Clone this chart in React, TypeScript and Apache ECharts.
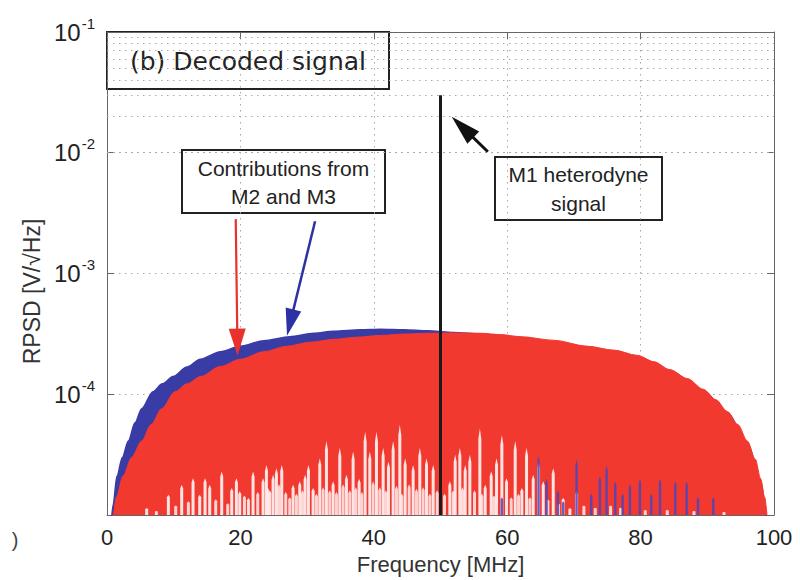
import React, { useEffect, useRef } from "react";
import * as echarts from "echarts";

// ---------- data ----------
const X_TICKS = [0, 20, 40, 60, 80, 100];
const Y_DECADES = [-5, -4, -3, -2, -1];
const Y_MIN = 1e-5;
const Y_MAX = 1e-1;

// upper envelope of the blue spectrum [MHz, V/sqrt(Hz)]
const blueEnvelope: [number, number][] = [
  [0.6, 8e-6], [0.9, 1.2e-5], [1.5, 2.1e-5], [2.3, 3.0e-5], [3.2, 4.1e-5], [4.2, 5.8e-5],
  [5.2, 7.6e-5], [6.9, 1.05e-4], [8.3, 1.22e-4], [9.9, 1.4e-4], [12, 1.68e-4],
  [14, 1.95e-4], [17, 2.25e-4], [20, 2.5e-4], [23.5, 2.78e-4], [27.4, 3.0e-4],
  [31, 3.2e-4], [34, 3.32e-4], [38, 3.42e-4], [41, 3.45e-4], [44.5, 3.42e-4],
  [48, 3.35e-4], [52, 3.25e-4], [56, 3.15e-4], [62, 2.95e-4], [67, 2.72e-4],
  [72, 2.45e-4], [79.5, 2.05e-4], [84.4, 1.56e-4], [89.4, 1.07e-4], [93, 7.0e-5],
  [96, 4.0e-5], [98, 1.9e-5], [98.9, 8e-6],
];

// upper envelope of the red spectrum
const redEnvelope: [number, number][] = [
  [0.8, 8e-6], [1.4, 1.4e-5], [2.4, 2.1e-5], [3.7, 3.0e-5], [5.2, 4.1e-5], [6.6, 5.6e-5],
  [8.2, 7.6e-5], [10.2, 1.05e-4], [12, 1.22e-4], [14, 1.4e-4], [17, 1.7e-4],
  [20, 1.95e-4], [23.5, 2.25e-4], [27, 2.5e-4], [30.5, 2.7e-4], [34, 2.85e-4],
  [37.5, 2.97e-4], [41, 3.07e-4], [44.5, 3.15e-4], [48, 3.2e-4], [52, 3.22e-4],
  [56, 3.2e-4], [59, 3.12e-4], [62, 3.0e-4], [67, 2.8e-4], [72, 2.5e-4],
  [76, 2.32e-4], [79.5, 2.1e-4], [82, 1.86e-4], [84.4, 1.6e-4], [87, 1.35e-4],
  [89.4, 1.1e-4], [91.3, 9.0e-5], [93, 7.2e-5], [94.6, 5.6e-5], [96, 4.1e-5],
  [97.2, 2.9e-5], [98, 2.0e-5], [98.6, 1.4e-5], [99.1, 8e-6],
];

// white gaps of the red spectrum: [MHz, height reached from the bottom]
const whiteGaps: [number, number][] = [
  [5.95, 1.14e-5], [9.2, 1.47e-5], [11.2, 1.78e-5], [12.9, 2.02e-5], [13.9, 1.47e-5],
  [14.7, 2.02e-5], [15.4, 1.78e-5], [17.2, 2.29e-5], [18.7, 1.67e-5], [19.4, 2.02e-5],
  [19.9, 1.57e-5], [21.2, 1.38e-5], [21.9, 2.29e-5], [23.4, 2.02e-5], [23.9, 2.6e-5],
  [24.4, 1.6e-5], [24.9, 2.15e-5], [25.4, 2.44e-5], [26.2, 2.6e-5], [27.9, 1.78e-5],
  [28.9, 1.9e-5], [29.7, 2.15e-5], [30.2, 2.6e-5], [30.9, 1.67e-5], [31.9, 2.95e-5],
  [32.9, 4.1e-5], [33.9, 1.9e-5], [34.9, 3.6e-5], [35.9, 2.15e-5], [36.9, 3.35e-5],
  [37.8, 2.0e-5], [38.7, 4.9e-5], [39.4, 3.35e-5], [40.4, 4.9e-5], [41.4, 3.6e-5],
  [42.2, 2.77e-5], [42.9, 4.1e-5], [43.9, 5.6e-5], [44.7, 2.95e-5], [45.9, 2.6e-5],
  [46.9, 3.6e-5], [47.9, 2.95e-5], [48.9, 2.6e-5], [51.4, 1.9e-5], [52.2, 3.15e-5],
  [52.9, 3.6e-5], [53.7, 2.6e-5], [54.4, 3.15e-5], [55.9, 5.2e-5], [56.7, 1.78e-5],
  [57.6, 2.3e-5], [58.4, 2.95e-5], [59.2, 4.6e-5], [59.9, 2.02e-5], [61.2, 4.1e-5],
  [62.2, 1.67e-5], [62.9, 3.6e-5], [63.9, 2.15e-5], [64.7, 2.77e-5], [65.4, 1.9e-5],
  [66.9, 2.44e-5], [68.4, 1.38e-5], [69.4, 1.14e-5], [70.4, 1.57e-5],
];

// shorter white gaps close to the bottom edge
const whiteGapsLow: [number, number][] = [
  [7.4, 1.08e-5], [10.3, 1.2e-5], [12.2, 1.3e-5], [16.3, 1.35e-5], [18.1, 1.25e-5],
  [20.6, 1.45e-5], [22.6, 1.55e-5], [24.1, 1.7e-5], [25.8, 1.8e-5], [26.8, 1.55e-5],
  [27.4, 1.4e-5], [28.4, 1.5e-5], [29.3, 1.6e-5], [31.4, 1.5e-5], [32.4, 1.7e-5],
  [33.4, 1.6e-5], [34.4, 1.55e-5], [35.4, 1.8e-5], [36.4, 1.6e-5], [37.3, 1.7e-5],
  [38.2, 1.55e-5], [39.9, 1.9e-5], [40.9, 1.7e-5], [41.8, 1.6e-5], [43.4, 1.75e-5],
  [44.2, 1.5e-5], [45.3, 1.8e-5], [46.4, 1.65e-5], [47.4, 1.7e-5], [48.4, 1.5e-5],
  [49.5, 1.6e-5], [50.6, 1.5e-5], [51.9, 1.6e-5], [53.3, 1.7e-5], [55.1, 1.6e-5],
  [56.2, 1.5e-5], [58.0, 1.45e-5], [60.6, 1.4e-5], [61.7, 1.5e-5], [63.4, 1.4e-5],
  [66.1, 1.35e-5], [67.7, 1.25e-5], [71.5, 1.2e-5], [73.2, 1.15e-5], [75.5, 1.2e-5],
  [77.0, 1.15e-5], [80.7, 1.1e-5], [84.0, 1.1e-5], [88.0, 1.08e-5], [92.5, 1.06e-5],
];

// blue spectrum showing through the red gaps
const blueGaps: [number, number][] = [
  [59.2, 1.4e-5], [64.7, 3.1e-5], [65.9, 2.0e-5], [67.6, 1.6e-5], [68.4, 1.3e-5],
  [70.4, 2.9e-5], [72.6, 1.5e-5], [73.9, 2.1e-5], [74.9, 2.6e-5], [76.2, 1.9e-5],
  [77.3, 1.5e-5], [78.4, 1.8e-5], [79.9, 2.0e-5], [81.6, 1.5e-5], [82.9, 2.0e-5],
  [85.2, 1.9e-5], [86.9, 1.9e-5], [88.6, 1.4e-5], [90.9, 1.4e-5],
];

// M1 heterodyne carrier
const carrier: [number, number][] = [[50, Y_MIN], [50, 0.03]];

// ---------- styling helpers ----------
const RED = "#F2392F";
const BLUE = "#3A3CA5";
const FONT = "'Liberation Sans', Arial, Helvetica, sans-serif";

const minorGridValues: number[] = [];
Y_DECADES.slice(0, -1).forEach((d) => {
  for (let m = 2; m <= 9; m++) minorGridValues.push(m * Math.pow(10, d));
});

function spikeRenderer(width: number, color: string) {
  return (params: any, api: any) => {
    const f = api.value(0);
    const v = api.value(1);
    const top = api.coord([f, v]);
    const base = api.coord([f, Y_MIN]);
    const h = base[1] - top[1];
    return {
      type: "polygon",
      shape: {
        points: [
          [top[0] - width / 2, base[1]],
          [top[0] - width / 2, top[1] + h * 0.12],
          [top[0], top[1]],
          [top[0] + width / 2, top[1] + h * 0.12],
          [top[0] + width / 2, base[1]],
        ],
      },
      style: { fill: color },
    };
  };
}

export default function App() {
  const ref = useRef<HTMLDivElement>(null);

  useEffect(() => {
    const chart = echarts.init(ref.current!, null, { renderer: "svg" });

    const gridDotted = { color: "#a8a8a8", width: 1, type: [1.5, 4.5] as any };

    const option: any = {
      animation: false,
      backgroundColor: "#ffffff",
      grid: { left: 107, top: 32, right: 26, bottom: 63, containLabel: false },
      xAxis: [
        {
          type: "value",
          min: X_TICKS[0],
          max: X_TICKS[X_TICKS.length - 1],
          interval: 20,
          position: "bottom",
          name: "Frequency [MHz]",
          nameLocation: "middle",
          nameGap: 38,
          nameTextStyle: { fontSize: 22, color: "#333", fontFamily: FONT },
          axisLine: { show: true, onZero: false, lineStyle: { color: "#666", width: 1 } },
          axisTick: { show: true, inside: true, length: 7, lineStyle: { color: "#666" } },
          axisLabel: { fontSize: 22, color: "#222", margin: 11, fontFamily: FONT },
          splitLine: { show: true, lineStyle: gridDotted },
        },
        {
          type: "value",
          min: X_TICKS[0],
          max: X_TICKS[X_TICKS.length - 1],
          interval: 20,
          position: "top",
          axisLine: { show: true, onZero: false, lineStyle: { color: "#666", width: 1 } },
          axisTick: { show: true, inside: true, length: 7, lineStyle: { color: "#666" } },
          axisLabel: { show: false },
          splitLine: { show: false },
        },
      ],
      yAxis: [
        {
          type: "log",
          logBase: 10,
          min: Y_MIN,
          max: Y_MAX,
          position: "left",
          name: "RPSD [V/\u221AHz]",
          nameLocation: "middle",
          nameGap: 60,
          nameRotate: 90,
          nameTextStyle: { fontSize: 23, color: "#333", fontFamily: FONT, padding: [0, 36, 0, 0] },
          axisLine: { show: true, onZero: false, lineStyle: { color: "#666", width: 1 } },
          axisTick: { show: true, inside: true, length: 7, lineStyle: { color: "#666" } },
          axisLabel: {
            margin: 12,
            color: "#222",
            fontFamily: FONT,
            formatter: (val: number) => {
              const e = Math.round(Math.log10(val));
              if (e <= Y_DECADES[0]) return "";
              return "{b|10}{s|" + e + "}";
            },
            rich: {
              b: { fontSize: 24, color: "#222", fontFamily: FONT },
              s: { fontSize: 15, color: "#222", fontFamily: FONT, padding: [0, 0, 18, 1] },
            },
          },
          splitLine: { show: true, lineStyle: gridDotted },
        },
        {
          type: "log",
          logBase: 10,
          min: Y_MIN,
          max: Y_MAX,
          position: "right",
          axisLine: { show: true, onZero: false, lineStyle: { color: "#666", width: 1 } },
          axisTick: { show: true, inside: true, length: 7, lineStyle: { color: "#666" } },
          axisLabel: { show: false },
          splitLine: { show: false },
        },
      ],
      series: [
        {
          name: "minor grid",
          type: "line",
          data: [],
          z: 1,
          silent: true,
          markLine: {
            silent: true,
            symbol: ["none", "none"],
            label: { show: false },
            lineStyle: gridDotted,
            data: minorGridValues.map((v) => ({ yAxis: v })),
          },
        },
        {
          name: "blue",
          type: "line",
          data: blueEnvelope,
          smooth: 0.3,
          smoothMonotone: "x",
          symbol: "none",
          z: 2,
          lineStyle: { color: BLUE, width: 1.5 },
          areaStyle: { color: BLUE, opacity: 1, origin: Y_MIN },
        },
        {
          name: "red",
          type: "line",
          data: redEnvelope,
          smooth: 0.3,
          smoothMonotone: "x",
          symbol: "none",
          z: 3,
          lineStyle: { color: RED, width: 1 },
          areaStyle: { color: RED, opacity: 1, origin: Y_MIN },
        },
        {
          name: "gaps",
          type: "custom",
          data: whiteGaps,
          encode: { x: 0, y: 1 },
          clip: true,
          z: 4,
          silent: true,
          renderItem: spikeRenderer(3, "rgba(255,246,246,0.9)"),
        },
        {
          name: "gaps low",
          type: "custom",
          data: whiteGapsLow,
          encode: { x: 0, y: 1 },
          clip: true,
          z: 4,
          silent: true,
          renderItem: spikeRenderer(3, "rgba(255,240,240,0.85)"),
        },
        {
          name: "blue gaps",
          type: "custom",
          data: blueGaps,
          encode: { x: 0, y: 1 },
          clip: true,
          z: 5,
          silent: true,
          renderItem: spikeRenderer(2.4, "rgba(70,70,190,0.85)"),
        },
        {
          name: "M1",
          type: "line",
          data: carrier,
          symbol: "none",
          z: 6,
          lineStyle: { color: "#1a1a1a", width: 3 },
        },
        {
          name: "arrows",
          type: "line",
          data: [],
          z: 7,
          markLine: {
            silent: true,
            label: { show: false },
            data: [
              [
                { coord: [19.3, 2.82e-3], symbol: "none", lineStyle: { color: "#E8322B", width: 2.2, type: "solid" } },
                { coord: [19.55, 2.7e-4], symbol: "triangle", symbolSize: [17, 27], lineStyle: { color: "#E8322B", width: 2.2, type: "solid" } },
              ],
              [
                { coord: [31.2, 2.71e-3], symbol: "none", lineStyle: { color: "#2E31A3", width: 2.5, type: "solid" } },
                { coord: [27.47, 3.92e-4], symbol: "triangle", symbolSize: [16, 27], lineStyle: { color: "#2E31A3", width: 2.5, type: "solid" } },
              ],
              [
                { coord: [57.1, 1.02e-2], symbol: "none", lineStyle: { color: "#111", width: 3, type: "solid" } },
                { coord: [53.3, 1.63e-2], symbol: "triangle", symbolSize: [17, 30], lineStyle: { color: "#111", width: 3, type: "solid" } },
              ],
            ],
          },
        },
      ],
      graphic: [
        {
          type: "group",
          z: 100,
          children: [
            {
              type: "rect",
              shape: { x: 107, y: 32, width: 282, height: 57 },
              style: { fill: "#fff", stroke: "#222", lineWidth: 2 },
            },
            {
              type: "text",
              x: 248,
              y: 61,
              style: {
                text: "(b) Decoded signal",
                font: "25px 'DejaVu Sans', Verdana, sans-serif",
                fill: "#222",
                align: "center",
                verticalAlign: "middle",
              },
            },
            {
              type: "rect",
              shape: { x: 182, y: 150, width: 203, height: 63 },
              style: { fill: "#fff", stroke: "#222", lineWidth: 2 },
            },
            {
              type: "text",
              x: 283.5,
              y: 182,
              style: {
                text: "Contributions from\nM2 and M3",
                font: "21px " + FONT,
                lineHeight: 28,
                fill: "#222",
                align: "center",
                verticalAlign: "middle",
              },
            },
            {
              type: "rect",
              shape: { x: 495, y: 157, width: 167, height: 63 },
              style: { fill: "#fff", stroke: "#222", lineWidth: 2 },
            },
            {
              type: "text",
              x: 578.5,
              y: 189,
              style: {
                text: "M1 heterodyne\nsignal",
                font: "21px " + FONT,
                lineHeight: 29,
                fill: "#222",
                align: "center",
                verticalAlign: "middle",
              },
            },
            {
              type: "text",
              x: 15,
              y: 540,
              style: {
                text: ")",
                font: "20px " + FONT,
                fill: "#444",
                align: "center",
                verticalAlign: "middle",
              },
            },
          ],
        },
      ],
    };

    chart.setOption(option);
    return () => chart.dispose();
  }, []);

  return (
    <div
      ref={ref}
      style={{ position: "fixed", left: 0, top: 0, width: 800, height: 580, background: "#fff" }}
    />
  );
}
